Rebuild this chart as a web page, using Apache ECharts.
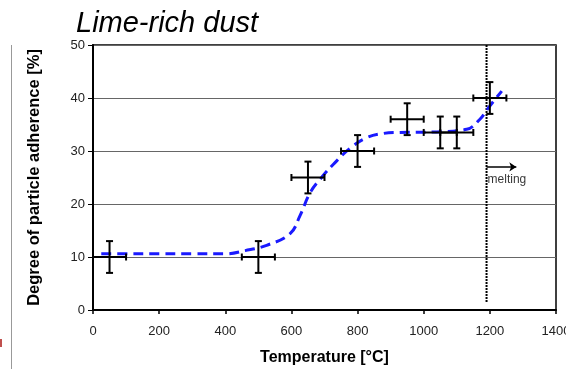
<!DOCTYPE html>
<html>
<head>
<meta charset="utf-8">
<script src="https://cdn.jsdelivr.net/npm/echarts@6/dist/echarts.min.js"></script>
<style>
  html, body { margin: 0; padding: 0; background: #fff; }
  #chart { width: 566px; height: 369px; }
</style>
</head>
<body>
<div id="chart"></div>
<script>
// measured points: [temperature, adherence]
const pointsX = [50, 500, 650, 800, 950, 1050, 1100, 1200]
const pointsY = [10, 10, 25, 30, 36, 33.5, 33.5, 40]
const errX = [50, 50, 50, 50, 50, 50, 50, 50]
const errY = [3, 3, 3, 3, 3, 3, 3, 3]

// fitted trend (dashed blue)
const curveX = [25, 100, 200, 300, 400, 460, 525, 596, 626, 657, 691, 727, 777, 827, 877, 928, 1028, 1130, 1170, 1195, 1236]
const curveY = [10.6, 10.6, 10.6, 10.6, 10.6, 11.2, 12.2, 14.4, 17.8, 22.2, 25, 27.5, 30.5, 32.5, 33.3, 33.5, 33.6, 34.1, 36, 38.1, 41.3]

const meltingT = 1190
const meltingY = [1.5, 50]

const xTicks = [0, 200, 400, 600, 800, 1000, 1200, 1400]
const yTicks = [0, 10, 20, 30, 40, 50]

const chart = echarts.init(document.getElementById('chart'))

const errData = pointsX.map((x, i) => [x, pointsY[i], errX[i], errY[i]])
const curveData = curveX.map((x, i) => [x, curveY[i]])

function renderErr(params, api) {
    const x = api.value(0), y = api.value(1), dx = api.value(2), dy = api.value(3)
    const c = api.coord([x, y])
    const l = api.coord([x - dx, y]), r = api.coord([x + dx, y])
    const t = api.coord([x, y + dy]), b = api.coord([x, y - dy])
    const cap = 3.5
    const st = { stroke: '#000', lineWidth: 2 }
    return {
        type: 'group',
        children: [
            { type: 'line', shape: { x1: l[0], y1: c[1], x2: r[0], y2: c[1] }, style: st },
            { type: 'line', shape: { x1: l[0], y1: c[1] - cap, x2: l[0], y2: c[1] + cap }, style: st },
            { type: 'line', shape: { x1: r[0], y1: c[1] - cap, x2: r[0], y2: c[1] + cap }, style: st },
            { type: 'line', shape: { x1: c[0], y1: t[1], x2: c[0], y2: b[1] }, style: st },
            { type: 'line', shape: { x1: c[0] - cap, y1: t[1], x2: c[0] + cap, y2: t[1] }, style: st },
            { type: 'line', shape: { x1: c[0] - cap, y1: b[1], x2: c[0] + cap, y2: b[1] }, style: st }
        ]
    }
}

const font = 'Liberation Sans, Arial, sans-serif'

const option = {
    animation: false,
    textStyle: { fontFamily: font },
    title: {
        text: 'Lime-rich dust',
        left: 71,
        top: 4,
        textStyle: { fontSize: 29, fontStyle: 'italic', fontWeight: 'normal', color: '#000', fontFamily: font }
    },
    grid: {
        left: 93, right: 10, top: 45, bottom: 59,
        outerBoundsMode: 'none',
        containLabel: false,
        show: true, borderColor: '#000', borderWidth: 1.5
    },
    xAxis: {
        type: 'value',
        min: 0, max: 1400, interval: 200,
        name: 'Temperature [°C]',
        nameLocation: 'middle',
        nameGap: 40,
        nameTextStyle: { fontSize: 16, fontWeight: 'bold', color: '#000' },
        axisLine: { lineStyle: { color: '#000', width: 2 } },
        axisTick: { show: true, length: 4, lineStyle: { color: '#000', width: 1.5 } },
        axisLabel: { fontSize: 13, color: '#222', margin: 15, formatter: v => xTicks.includes(v) ? String(v) : '' },
        splitLine: { show: false }
    },
    yAxis: {
        type: 'value',
        min: 0, max: 50, interval: 10,
        name: 'Degree of particle adherence [%]',
        nameLocation: 'middle',
        nameGap: 50,
        nameTextStyle: { fontSize: 16.5, fontWeight: 'bold', color: '#000' },
        axisLine: { show: true, lineStyle: { color: '#000', width: 2 } },
        axisTick: { show: true, length: 5, lineStyle: { color: '#000', width: 1 } },
        axisLabel: { fontSize: 13, color: '#222', margin: 8, formatter: v => yTicks.includes(v) ? String(v) : '' },
        splitLine: { show: true, lineStyle: { color: '#666', width: 1 } }
    },
    series: [
        {
            type: 'line',
            data: curveData,
            smooth: 0.4,
            symbol: 'none',
            lineStyle: { color: '#1a1aff', width: 3, type: [10, 6] },
            z: 3
        },
        {
            type: 'line',
            data: meltingY.map(y => [meltingT, y]),
            symbol: 'none',
            lineStyle: { color: '#000', width: 2, type: [2, 1] },
            markLine: {
                silent: true,
                symbol: ['none', 'arrow'],
                symbolSize: 7,
                lineStyle: { color: '#000', width: 1.5, type: 'solid' },
                label: { show: false },
                data: [[{ coord: [meltingT, 27] }, { coord: [meltingT + 90, 27] }]]
            },
            z: 2
        },
        {
            type: 'scatter',
            data: [[meltingT, 24.5]],
            symbolSize: 0,
            label: {
                show: true,
                position: 'right',
                distance: 1,
                formatter: 'melting',
                fontSize: 12,
                color: '#000'
            },
            z: 4
        },
        {
            type: 'custom',
            data: errData,
            renderItem: renderErr,
            encode: { x: 0, y: 1 },
            z: 5
        }
    ],
    graphic: [
        { type: 'line', shape: { x1: 11.5, y1: 45, x2: 11.5, y2: 369 }, style: { stroke: '#999', lineWidth: 1 } },
        { type: 'rect', shape: { x: 0, y: 339, width: 2, height: 8 }, style: { fill: '#c0504d' } }
    ]
}

chart.setOption(option)
</script>
</body>
</html>
